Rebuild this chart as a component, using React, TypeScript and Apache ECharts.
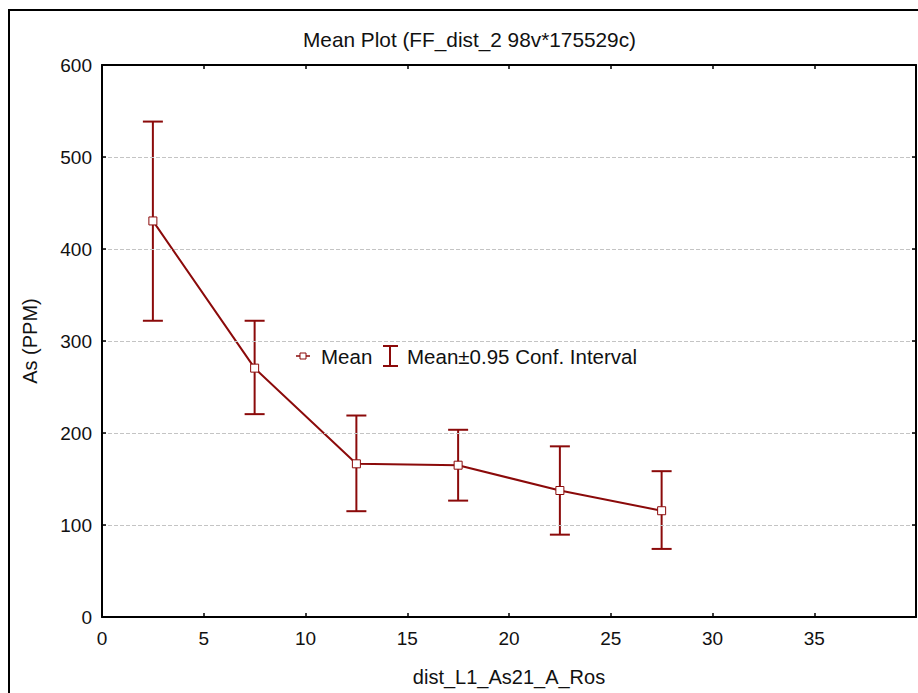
import React, { useEffect, useRef } from "react";
import * as echarts from "echarts";

const titleText = "Mean Plot (FF_dist_2 98v*175529c)";
const xAxisName = "dist_L1_As21_A_Ros";
const yAxisName = "As (PPM)";
const legendMean = "Mean";
const legendCI = "Mean±0.95 Conf. Interval";

const xValues = [2.5, 7.5, 12.5, 17.5, 22.5, 27.5];
const meanValues = [430.5, 270.5, 166.5, 165, 137.5, 115.5];
const lowerValues = [322, 220.5, 115, 126.5, 89.5, 74];
const upperValues = [538.5, 322, 219, 203.5, 185.5, 158.5];

const xMin = 0;
const xMax = 40;
const xInterval = 5;
const yMin = 0;
const yMax = 600;
const yInterval = 100;

const RED = "#8B0A0A";
const FONT = "Liberation Sans, Arial, sans-serif";

export default function App() {
  const ref = useRef<HTMLDivElement>(null);
  useEffect(() => {
    if (!ref.current) return;
    const chart = echarts.init(ref.current, null, { renderer: "svg" });
    const meanData = xValues.map((x, i) => [x, meanValues[i]]);
    const ciData = xValues.map((x, i) => [x, lowerValues[i], upperValues[i]]);

    const axisLine = { show: true, onZero: false, lineStyle: { color: "#000", width: 2 } };
    const axisTick = { show: true, inside: true, length: 4, lineStyle: { color: "#000", width: 1.5 } };

    chart.setOption({
      animation: false,
      backgroundColor: "#fff",
      textStyle: { fontFamily: FONT },
      grid: { left: 102, top: 65, width: 814, height: 552, containLabel: false },
      xAxis: [
        {
          type: "value",
          min: xMin,
          max: xMax,
          interval: xInterval,
          position: "bottom",
          axisLine,
          axisTick,
          splitLine: { show: false },
          axisLabel: { show: true, color: "#111", fontSize: 19, fontFamily: FONT, margin: 12, showMaxLabel: false },
          name: xAxisName,
          nameLocation: "middle",
          nameGap: 50,
          nameTextStyle: { color: "#111", fontSize: 20, fontFamily: FONT },
          z: 5,
        },
        {
          type: "value",
          min: xMin,
          max: xMax,
          interval: xInterval,
          position: "top",
          axisLine,
          axisTick,
          splitLine: { show: false },
          axisLabel: { show: false },
          z: 5,
        },
      ],
      yAxis: [
        {
          type: "value",
          min: yMin,
          max: yMax,
          interval: yInterval,
          position: "left",
          axisLine,
          axisTick,
          splitLine: { show: true, lineStyle: { color: "#c4c4c4", width: 1, type: [4, 2] } },
          axisLabel: { show: true, color: "#111", fontSize: 19, fontFamily: FONT, margin: 10 },
          name: yAxisName,
          nameLocation: "middle",
          nameGap: 62,
          nameTextStyle: { color: "#111", fontSize: 20, fontFamily: FONT },
          z: 5,
        },
        {
          type: "value",
          min: yMin,
          max: yMax,
          interval: yInterval,
          position: "right",
          axisLine,
          axisTick,
          splitLine: { show: false },
          axisLabel: { show: false },
          z: 5,
        },
      ],
      series: [
        {
          type: "custom",
          name: legendCI,
          xAxisIndex: 0,
          yAxisIndex: 0,
          data: ciData,
          z: 2,
          renderItem: (params: any, api: any) => {
            const x = api.value(0);
            const lo = api.coord([x, api.value(1)]);
            const hi = api.coord([x, api.value(2)]);
            const hw = 10;
            const style = { stroke: RED, lineWidth: 2 };
            return {
              type: "group",
              children: [
                { type: "line", shape: { x1: lo[0], y1: lo[1], x2: hi[0], y2: hi[1] }, style },
                { type: "line", shape: { x1: hi[0] - hw, y1: hi[1], x2: hi[0] + hw, y2: hi[1] }, style },
                { type: "line", shape: { x1: lo[0] - hw, y1: lo[1], x2: lo[0] + hw, y2: lo[1] }, style },
              ],
            };
          },
        },
        {
          type: "line",
          name: legendMean,
          xAxisIndex: 0,
          yAxisIndex: 0,
          data: meanData,
          z: 3,
          symbol: "rect",
          symbolSize: 8,
          showAllSymbol: true,
          lineStyle: { color: RED, width: 2 },
          itemStyle: { color: "#fff", borderColor: RED, borderWidth: 1 },
        },
      ],
      graphic: [
        {
          type: "rect",
          shape: { x: 9, y: 10, width: 1000, height: 1000 },
          style: { fill: "none", stroke: "#000", lineWidth: 2 },
          silent: true,
          z: 0,
        },
        {
          type: "text",
          x: 469.5,
          y: 39,
          style: { text: titleText, fill: "#111", font: `20.8px ${FONT}`, textAlign: "center", textVerticalAlign: "middle" },
        },
        {
          type: "line",
          shape: { x1: 296, y1: 356, x2: 310, y2: 356 },
          style: { stroke: RED, lineWidth: 1.5 },
        },
        {
          type: "rect",
          shape: { x: 300, y: 353, width: 6, height: 6 },
          style: { fill: "#fff", stroke: RED, lineWidth: 1 },
        },
        {
          type: "text",
          x: 321,
          y: 356,
          style: { text: legendMean, fill: "#111", font: `20.5px ${FONT}`, textAlign: "left", textVerticalAlign: "middle" },
        },
        {
          type: "line",
          shape: { x1: 390, y1: 346, x2: 390, y2: 366 },
          style: { stroke: RED, lineWidth: 2 },
        },
        {
          type: "line",
          shape: { x1: 383, y1: 346, x2: 398, y2: 346 },
          style: { stroke: RED, lineWidth: 2 },
        },
        {
          type: "line",
          shape: { x1: 383, y1: 366, x2: 398, y2: 366 },
          style: { stroke: RED, lineWidth: 2 },
        },
        {
          type: "text",
          x: 407,
          y: 356,
          style: { text: legendCI, fill: "#111", font: `20.5px ${FONT}`, textAlign: "left", textVerticalAlign: "middle" },
        },
      ],
    });
    return () => chart.dispose();
  }, []);
  return (
    <div
      ref={ref}
      style={{ position: "absolute", left: 0, top: 0, width: 918, height: 693 }}
    />
  );
}
